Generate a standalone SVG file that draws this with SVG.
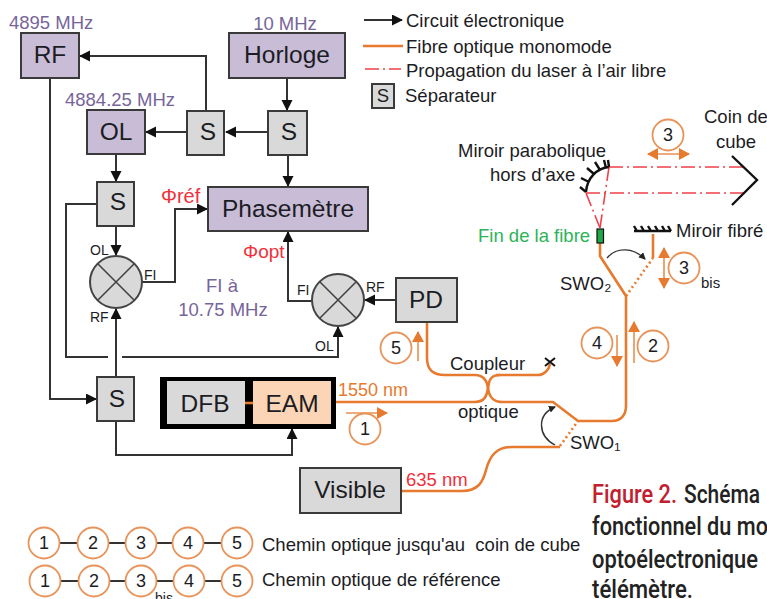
<svg xmlns="http://www.w3.org/2000/svg" width="767" height="599" viewBox="0 0 767 599">
<style>
text{font-family:"Liberation Sans",Arial,sans-serif;fill:#1c1c24}
.m{text-anchor:middle}
.box{stroke:#3a3a3a;stroke-width:2}
.p{fill:#c9bcd7}.g{fill:#d9d9d9}
.bl{font-size:24.500px}
.f{font-size:18.500px;fill:#77659a}
.t{font-size:18.500px}
.s{font-size:14px}
.r{fill:#f0303a;font-size:18.500px}
.w{fill:none;stroke:#333;stroke-width:2}
.o{fill:none;stroke:#e67a2e;stroke-width:2.6}
.ot{fill:none;stroke:#e67a2e;stroke-width:2.6;stroke-dasharray:2 3}
.ar{fill:none;stroke:#e89050;stroke-width:1.6}
.la{fill:none;stroke:#f0404a;stroke-width:1.6;stroke-dasharray:14 4 2 4}
.c{fill:#fff;stroke:#e8935a;stroke-width:1.8}
.n{font-size:18px;text-anchor:middle}
.fig{font-family:"Roboto","Liberation Sans",sans-serif;font-size:26px;font-weight:500;fill:#222}
.mx{fill:#d9d9d9;stroke:#444;stroke-width:2}
.mxl{stroke:#444;stroke-width:1.6}
</style>
<defs>
<marker id="a" markerUnits="userSpaceOnUse" markerWidth="12" markerHeight="12" refX="10" refY="5.5" orient="auto"><path d="M0,0L11,5.5L0,11Z" fill="#111"/></marker>
<marker id="oa" markerUnits="userSpaceOnUse" markerWidth="13" markerHeight="13" refX="10" refY="6" orient="auto-start-reverse"><path d="M0,0L11,6L0,12Z" fill="#e67a2e"/></marker>
<marker id="sa" markerUnits="userSpaceOnUse" markerWidth="8" markerHeight="8" refX="6" refY="3.5" orient="auto"><path d="M0,0L7,3.5L0,7Z" fill="#222"/></marker>
</defs>

<g id="connectors">
<path class="w" marker-end="url(#a)" d="M50,78V399H96"/>
<path class="w" marker-end="url(#a)" d="M116,377V309"/>
<path class="w" marker-end="url(#a)" d="M116,421V455H292V429"/>
<path class="w" marker-end="url(#a)" d="M206,111V56H80"/>
<path class="w" marker-end="url(#a)" d="M287,78V110"/>
<path class="w" marker-end="url(#a)" d="M268,132H226"/>
<path class="w" marker-end="url(#a)" d="M187,132H146"/>
<path class="w" marker-end="url(#a)" d="M116,154V181"/>
<path class="w" marker-end="url(#a)" d="M116,226V255"/>
<path class="w" marker-end="url(#a)" d="M142,282H175V209H207"/>
<path class="w" marker-end="url(#a)" d="M288,155V186"/>
<path class="w" marker-end="url(#a)" d="M312,301H288V232"/>
<path class="w" marker-end="url(#a)" d="M396,300H365"/>
<path class="w" d="M97,204H66V357H108"/>
<path class="w" marker-end="url(#a)" d="M122,357H338V327"/>

<path class="o" d="M335,402H475C485,402 487,395 488,388C489,381 490,375 500,375"/>
<path class="o" d="M427,322V358C427,370 433,375 445,375H475C484,375 487,381 488,388C489,396 492,402 503,402H553L578,421H612C621,421 626,415 626,406V296L600,256V243"/>
<path class="o" d="M496,375H538C544,375 549,370 550,364"/>
<path class="o" d="M402,491H462C478,491 483,482 486,470C490,455 497,447 512,447H560"/>
<path class="ot" d="M560,446L578,421"/>
<path class="ot" d="M626,296L653,258"/>
<path class="o" d="M653,258V234"/>
<path fill="none" stroke="#333" stroke-width="1.4" marker-end="url(#sa)" d="M555,445C538,436 536,415 555,407"/>
<path fill="none" stroke="#333" stroke-width="1.4" marker-end="url(#sa)" d="M607,258C617,246 634,248 645,259"/>

<path class="la" d="M609,167H745"/>
<path class="la" d="M586,193H745"/>
<path class="la" d="M609,167L600,228"/>
<path class="la" d="M586,193L600,228"/>

<path class="ar" marker-end="url(#oa)" d="M346,413H387"/>
<path class="ar" marker-end="url(#oa)" d="M418,361V332"/>
<path class="ar" marker-end="url(#oa)" d="M617,335V366"/>
<path class="ar" marker-end="url(#oa)" d="M634,363V322"/>
<path class="ar" marker-start="url(#oa)" marker-end="url(#oa)" d="M648,154H689"/>
<path class="ar" marker-start="url(#oa)" marker-end="url(#oa)" d="M664,248V288"/>
</g>

<g id="legend">
<path class="w" marker-end="url(#a)" d="M364,20H402"/>
<path d="M363,46H403" stroke="#e67a2e" stroke-width="2.6"/>
<path class="la" d="M365,69H401" stroke-dasharray="10 3 2 3"/>
<text class="t" x="406" y="27">Circuit électronique</text>
<text class="t" x="406" y="53">Fibre optique monomode</text>
<text class="t" x="406" y="77">Propagation du laser à l’air libre</text>
<rect class="box g" x="372" y="84" width="22" height="24"/>
<text class="t m" x="383" y="102">S</text>
<text class="t" x="405" y="102">Séparateur</text>
</g>

<g id="rf"><rect class="box p" x="21" y="33" width="58" height="45"/><text class="bl m" x="50" y="63">RF</text><text class="f" x="9" y="29">4895 MHz</text></g>
<g id="horloge"><rect class="box p" x="229" y="33" width="116" height="45"/><text class="bl m" x="287" y="63">Horloge</text><text class="f m" x="285" y="30">10 MHz</text></g>
<g id="ol"><rect class="box p" x="87" y="110" width="58" height="44"/><text class="bl m" x="116" y="140">OL</text><text class="f" x="65" y="106">4884.25 MHz</text></g>
<g id="s1"><rect class="box g" x="187" y="111" width="37" height="44"/><text class="bl m" x="208" y="140">S</text></g>
<g id="s2"><rect class="box g" x="268" y="111" width="39" height="44"/><text class="bl m" x="289" y="140">S</text></g>
<g id="s3"><rect class="box g" x="97" y="182" width="37" height="44"/><text class="bl m" x="118" y="210">S</text></g>
<g id="s4"><rect class="box g" x="97" y="377" width="37" height="44"/><text class="bl m" x="117" y="407">S</text></g>
<g id="phasemetre"><rect class="box p" x="208" y="187" width="160" height="44"/><text class="bl m" x="288" y="217">Phasemètre</text><text class="r" style="font-size:20px" x="161" y="203">Φréf</text><text class="r" style="font-size:19px" x="243" y="258">Φopt</text></g>
<g id="mixer1"><circle class="mx" cx="116" cy="282" r="26"/><path class="mxl" d="M98,264L134,300M134,264L98,300"/><text class="s" x="90" y="255">OL</text><text class="s" x="144" y="280">FI</text><text class="s" x="90" y="322">RF</text></g>
<g id="mixer2"><circle class="mx" cx="338" cy="300" r="26"/><path class="mxl" d="M320,282L356,318M356,282L320,318"/><text class="s" x="297" y="295">FI</text><text class="s" x="366" y="292">RF</text><text class="s" x="315" y="351">OL</text></g>
<g id="fi"><text class="f m" x="222" y="292">FI à</text><text class="f m" x="223" y="316">10.75 MHz</text></g>
<g id="pd"><rect class="box g" x="396" y="278" width="61" height="44"/><text class="bl m" x="426" y="308">PD</text></g>
<g id="laser"><rect x="160" y="377" width="176" height="52" fill="#000"/><rect x="167" y="381" width="78" height="43" fill="#d9d9d9"/><rect x="253" y="381" width="78" height="43" fill="#fbd5b5"/><text class="bl m" x="205" y="412">DFB</text><text class="bl m" x="292" y="412">EAM</text><path class="o" d="M245,403H253"/></g>
<g id="visible"><rect class="box g" x="300" y="468" width="101" height="45"/><text class="bl m" x="350" y="498">Visible</text><text class="r" x="406" y="486">635 nm</text></g>
<g id="fibres-labels"><text style="fill:#e67a2e;font-size:18px" x="338" y="396">1550 nm</text><text class="t" x="450" y="370">Coupleur</text><text class="t" x="458" y="418">optique</text><text class="t" x="570" y="449">SWO₁</text><text class="t" x="560" y="290">SWO₂</text>
<path d="M545,358L555,366M555,358L545,366" stroke="#111" stroke-width="2"/></g>

<g id="optics">
<path fill="none" stroke="#111" stroke-width="2.4" d="M586,192C587,178 597,168 609,167M586,192L580,187M589,182L581,178M594,174L587,168M600,170L595,162M606,168L604,160M609,167L608,160"/>
<path fill="none" stroke="#111" stroke-width="2.4" d="M732,156L757,180L732,205"/>
<rect x="597" y="229" width="6.500" height="14" fill="#1fa84a" stroke="#111" stroke-width="1.2"/>
<path fill="none" stroke="#111" stroke-width="2.4" d="M634,231H671M637,231L634,226M644,231L641,226M651,231L648,226M658,231L655,226M665,231L662,226M671,231L668,226"/>
<text class="t" x="458" y="157">Miroir parabolique</text><text class="t" x="490" y="181">hors d’axe</text>
<text class="t" x="704" y="123">Coin de</text><text class="t" x="716" y="148">cube</text>
<text class="t" x="478" y="242" style="fill:#2db35a">Fin de la fibre</text><text class="t" x="676" y="237">Miroir fibré</text>
</g>

<g id="markers">
<circle class="c" cx="668" cy="135" r="15.500"/><text class="n" x="668" y="141">3</text>
<circle class="c" cx="684" cy="268" r="15.500"/><text class="n" x="684" y="274">3</text><text class="s" style="font-size:15px" x="701" y="288">bis</text>
<circle class="c" cx="365" cy="429" r="15.500"/><text class="n" x="365" y="435">1</text>
<circle class="c" cx="396" cy="348" r="15.500"/><text class="n" x="396" y="354">5</text>
<circle class="c" cx="597" cy="343" r="15.500"/><text class="n" x="597" y="349">4</text>
<circle class="c" cx="653" cy="346" r="15.500"/><text class="n" x="653" y="352">2</text>
</g>

<g id="chemins">
<path class="w" d="M59,543H222M60,581H222"/>
<circle class="c" cx="44" cy="543" r="15.500"/><text class="n" x="44" y="549">1</text>
<circle class="c" cx="93" cy="543" r="15.500"/><text class="n" x="93" y="549">2</text>
<circle class="c" cx="141" cy="543" r="15.500"/><text class="n" x="141" y="549">3</text>
<circle class="c" cx="188" cy="543" r="15.500"/><text class="n" x="188" y="549">4</text>
<circle class="c" cx="237" cy="543" r="15.500"/><text class="n" x="237" y="549">5</text>
<circle class="c" cx="45" cy="581" r="15.500"/><text class="n" x="45" y="587">1</text>
<circle class="c" cx="94" cy="581" r="15.500"/><text class="n" x="94" y="587">2</text>
<circle class="c" cx="141" cy="581" r="15.500"/><text class="n" x="141" y="587">3</text>
<circle class="c" cx="189" cy="581" r="15.500"/><text class="n" x="189" y="587">4</text>
<circle class="c" cx="237" cy="581" r="15.500"/><text class="n" x="237" y="587">5</text>
<text class="s" x="155" y="603">bis</text>
<text class="t" x="262" y="551" xml:space="preserve">Chemin optique jusqu'au  coin de cube</text>
<text class="t" x="262" y="586">Chemin optique de référence</text>
</g>

<g id="figure">
<text class="fig" x="592" y="503" style="fill:#c2202e" textLength="85" lengthAdjust="spacingAndGlyphs">Figure 2.</text>
<text class="fig" x="684" y="503" textLength="76" lengthAdjust="spacingAndGlyphs">Schéma</text>
<text class="fig" x="592" y="535" textLength="176" lengthAdjust="spacingAndGlyphs">fonctionnel du mo</text>
<text class="fig" x="592" y="568" textLength="166" lengthAdjust="spacingAndGlyphs">optoélectronique</text>
<text class="fig" x="592" y="598" textLength="101" lengthAdjust="spacingAndGlyphs">télémètre.</text>
</g>
</svg>
